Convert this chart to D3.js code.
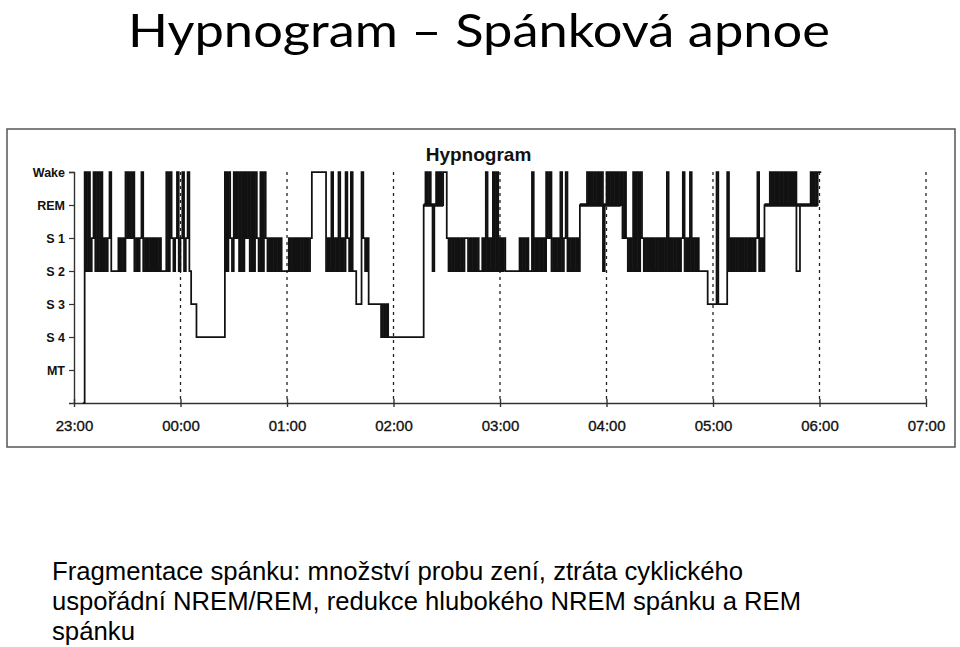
<!DOCTYPE html>
<html><head><meta charset="utf-8">
<script src="https://cdn.jsdelivr.net/npm/d3@7"></script>
<style>body{margin:0;background:#fff;} svg{display:block;}</style>
</head><body><svg id="c" width="960" height="647"></svg>
<script>
// ---------------- DATA ----------------
const slideTitle = "Hypnogram – Spánková apnoe";
const chartTitle = "Hypnogram";
const stageLabels = ["Wake", "REM", "S 1", "S 2", "S 3", "S 4", "MT"];
const codeToStage = { W: "Wake", R: "REM", "1": "S 1", "2": "S 2", "3": "S 3", "4": "S 4", M: "MT", "-": "off" };
const hourLabels = ["23:00", "00:00", "01:00", "02:00", "03:00", "04:00", "05:00", "06:00", "07:00"];
const hourMinutes = [0, 60, 120, 180, 240, 300, 360, 420, 480]; // minutes after 23:00
const epochStart = 5;      // first scored epoch, minutes after 23:00
const epochMinutes = 1;    // one character = one epoch
// stage per epoch, read off the scanned hypnogram (W, R, 1, 2, 3, 4, '-' = not recorded)
const stageEpochs = [
  "-W2W21W2W2W2121W", "2222", "1212", "W1W1W", "2121W2121212121", "222",
  "W2W121W21W21W2", "333", "4444444444444444",
  "W2W12W1W2W2W1W2W2W12W2W1", "212121212", "222", "1212121212121", "WWWWWWWW",
  "212W212W212W12W22", "333", "W121", "3333333", "4343", "44444444444444444444",
  "RWRWR2RWRWR", "WW",
  "1212121212", "11212121", "2212W212W2W21212", "2222222",
  "1212122", "W2121212", "W1W21212", "W21W2121212",
  "RRRR", "WRWRWRWRW", "2", "R", "WRWRWRW", "R",
  "W1W1212W2W2W1",
  "2121212121212", "W", "21212121", "W", "212", "W", "2121", "22222",
  "33333W33333W21", "21212121212121", "W", "212",
  "RRR", "WRWRWRWRWRWRWRW", "22", "RRRRRR", "WRWR", "WW"
];
// REM periods drawn as thick bars (minutes after 23:00)
const remBars = [[197, 208], [285, 308], [389, 419]];
const noteLines = [
  "Fragmentace spánku: množství probu zení, ztráta cyklického",
  "uspořádní NREM/REM, redukce hlubokého NREM spánku a REM",
  "spánku"
];

// ---------------- DRAW ----------------
const svg = d3.select("#c");
svg.append("rect").attr("width", 960).attr("height", 647).attr("fill", "#fff");

svg.append("text")
  .attr("x", 128).attr("y", 47)
  .attr("font-family", "Lato, 'Open Sans', sans-serif")
  .attr("font-size", 46).attr("fill", "#000")
  .attr("textLength", 702).attr("lengthAdjust", "spacingAndGlyphs")
  .text(slideTitle);

// frame of the scanned figure
svg.append("rect")
  .attr("x", 7).attr("y", 129).attr("width", 948).attr("height", 318)
  .attr("fill", "none").attr("stroke", "#555").attr("stroke-width", 1.5);

const x = d3.scaleLinear().domain([0, 480]).range([74, 926]);
const y = d3.scalePoint().domain([...stageLabels, "off"]).range([172, 403]);

// dashed hour gridlines
svg.append("g").selectAll("line").data(hourMinutes.slice(1)).join("line")
  .attr("x1", d => x(d)).attr("x2", d => x(d))
  .attr("y1", y("Wake")).attr("y2", y("off"))
  .attr("stroke", "#222").attr("stroke-width", 1.3).attr("stroke-dasharray", "3,4");

// x axis
const gx = svg.append("g").attr("transform", `translate(0,${y("off")})`)
  .call(d3.axisBottom(x).tickValues(hourMinutes).tickFormat((d, i) => hourLabels[i]).tickSizeOuter(0));
gx.select(".domain").attr("stroke", "#333").attr("stroke-width", 1.4);
gx.selectAll(".tick line").attr("y1", -4).attr("y2", 4).attr("stroke", "#333").attr("stroke-width", 1.4);
gx.selectAll(".tick text").attr("y", 28).attr("dy", null)
  .attr("font-family", "Arial, 'Liberation Sans', sans-serif").attr("font-size", 15)
  .attr("fill", "#111").attr("stroke", "#111").attr("stroke-width", 0.35);

// y axis
const gy = svg.append("g").attr("transform", `translate(${x(0)},0)`)
  .call(d3.axisLeft(y).tickValues(stageLabels).tickSize(5).tickPadding(4));
gy.select(".domain").attr("stroke", "#333").attr("stroke-width", 1.4);
gy.selectAll(".tick line").attr("stroke", "#333").attr("stroke-width", 1.2);
gy.selectAll(".tick text")
  .attr("font-family", "Arial, 'Liberation Sans', sans-serif").attr("font-size", 12.5)
  .attr("font-weight", "bold").attr("fill", "#111");

// chart title
svg.append("text")
  .attr("x", 478.5).attr("y", 161).attr("text-anchor", "middle")
  .attr("font-family", "Arial, 'Liberation Sans', sans-serif")
  .attr("font-size", 19).attr("font-weight", "bold").attr("fill", "#111")
  .text(chartTitle);

// hypnogram trace
const codes = stageEpochs.join("").split("");
const pts = codes.map((c, i) => ({ t: epochStart + i * epochMinutes, s: codeToStage[c] }));
pts.push({ t: epochStart + codes.length * epochMinutes, s: pts[pts.length - 1].s });
svg.append("path").datum(pts)
  .attr("fill", "none").attr("stroke", "#111").attr("stroke-width", 1.75)
  .attr("d", d3.line().x(d => x(d.t)).y(d => y(d.s)).curve(d3.curveStepAfter));

// REM bars
svg.append("g").selectAll("line").data(remBars).join("line")
  .attr("x1", d => x(d[0])).attr("x2", d => x(d[1]))
  .attr("y1", y("REM")).attr("y2", y("REM"))
  .attr("stroke", "#111").attr("stroke-width", 3.5);

// notes
svg.append("g").selectAll("text").data(noteLines).join("text")
  .attr("x", 52).attr("y", (d, i) => 580 + i * 30)
  .attr("font-family", "'Liberation Sans Narrow', 'Arial Narrow', Arial, sans-serif")
  .attr("font-size", 26.5).attr("fill", "#000")
  .attr("textLength", (d, i) => [691, 749, 83][i]).attr("lengthAdjust", "spacingAndGlyphs")
  .text(d => d);
</script>
</body></html>
